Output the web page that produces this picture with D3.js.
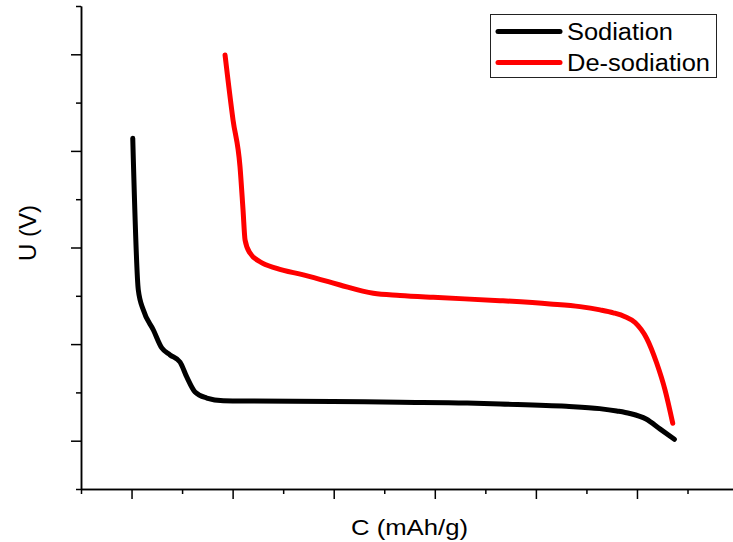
<!DOCTYPE html>
<html>
<head>
<meta charset="utf-8">
<script src="https://cdn.jsdelivr.net/npm/d3@7"></script>
<style>
  body { margin: 0; background: #fff; }
  text { font-family: Arial, "Liberation Sans", sans-serif; fill: #000; }
</style>
</head>
<body>
<svg id="chart" width="733" height="542"></svg>
<script>
// capacity (mAh/g) and voltage (V)
const sodiationC = [1.2, 6.7, 11.7, 21.6, 29.9, 38.1, 48, 54.6, 62.8, 74.4, 90.8, 117, 199, 266, 332, 365, 430, 463, 480, 493, 509, 523, 537];
const sodiationU = [1.565, 0.78, 0.676, 0.573, 0.48, 0.444, 0.407, 0.33, 0.252, 0.221, 0.207, 0.205, 0.203, 0.199, 0.195, 0.19, 0.178, 0.166, 0.154, 0.141, 0.112, 0.06, 0.007];

const desodiationC = [92.5, 100.4, 107.3, 110.3, 112.3, 117.2, 127.1, 143.6, 170, 194.7, 206.3, 239.2, 265.6, 298.5, 364.5, 414, 443.6, 463.5, 476.6, 488.2, 498.1, 509.6, 519.5, 527.8, 535.4];
const desodiationU = [1.996, 1.66, 1.418, 1.194, 1.039, 0.971, 0.926, 0.892, 0.858, 0.823, 0.806, 0.763, 0.752, 0.742, 0.725, 0.708, 0.694, 0.677, 0.662, 0.642, 0.612, 0.53, 0.402, 0.262, 0.09];

const seriesNames = ["Sodiation", "De-sodiation"];
const seriesColors = ["#000000", "#ff0000"];

const xMajor = [0, 100, 200, 300, 400, 500];
const xMinor = [-50, 50, 150, 250, 350, 450, 550];
const yMajor = [0, 0.5, 1, 1.5, 2];
const yMinor = [-0.25, 0.25, 0.75, 1.25, 1.75, 2.25];

const svg = d3.select('#chart');

const x = d3.scaleLinear().domain([-50, 595]).range([81, 733]);
const y = d3.scaleLinear().domain([-0.25, 2.25]).range([489, 6]);

// axes: no tick labels, majors long, minors short
function styleAxis(g) {
  g.selectAll('path, line').attr('stroke', '#000').attr('stroke-width', 1.5);
  g.selectAll('text').remove();
}

svg.append('g').attr('transform', 'translate(0,489)')
   .call(d3.axisBottom(x).tickValues(xMajor).tickSize(10).tickSizeOuter(0)).call(styleAxis);
svg.append('g').attr('transform', 'translate(0,489)')
   .call(d3.axisBottom(x).tickValues(xMinor).tickSize(5).tickSizeOuter(0)).call(styleAxis);
svg.append('g').attr('transform', 'translate(81,0)')
   .call(d3.axisLeft(y).tickValues(yMajor).tickSize(10).tickSizeOuter(0)).call(styleAxis);
svg.append('g').attr('transform', 'translate(81,0)')
   .call(d3.axisLeft(y).tickValues(yMinor).tickSize(5).tickSizeOuter(0)).call(styleAxis);

const line = d3.line()
  .x(d => x(d[0]))
  .y(d => y(d[1]))
  .curve(d3.curveMonotoneX);

const series = [
  d3.zip(sodiationC, sodiationU),
  d3.zip(desodiationC, desodiationU)
];

svg.selectAll('.curve')
   .data(series)
   .join('path')
    .attr('class', 'curve')
    .attr('d', line)
    .attr('fill', 'none')
    .attr('stroke', (d, i) => seriesColors[i])
    .attr('stroke-width', 5)
    .attr('stroke-linecap', 'round')
    .attr('stroke-linejoin', 'round');

// axis titles
svg.append('text')
   .attr('x', 351).attr('y', 535)
   .attr('font-size', 22)
   .attr('textLength', 117).attr('lengthAdjust', 'spacingAndGlyphs')
   .text('C (mAh/g)');

svg.append('text')
   .attr('transform', 'translate(36,233) rotate(-90)')
   .attr('text-anchor', 'middle')
   .attr('font-size', 24)
   .text('U (V)');

// legend
const legend = svg.append('g');
legend.append('rect')
      .attr('x', 490.5).attr('y', 14.5).attr('width', 226).attr('height', 63)
      .attr('fill', '#fff').attr('stroke', '#222').attr('stroke-width', 1);

const legendY = [31.5, 62.5];
const legendW = [106, 143];
seriesNames.forEach((name, i) => {
  legend.append('line')
        .attr('x1', 498).attr('x2', 560)
        .attr('y1', legendY[i]).attr('y2', legendY[i])
        .attr('stroke', seriesColors[i]).attr('stroke-width', 5)
        .attr('stroke-linecap', 'round');
  legend.append('text')
        .attr('x', 567).attr('y', legendY[i] + 8.5)
        .attr('font-size', 23)
        .attr('textLength', legendW[i]).attr('lengthAdjust', 'spacingAndGlyphs')
        .text(name);
});
</script>
</body>
</html>
